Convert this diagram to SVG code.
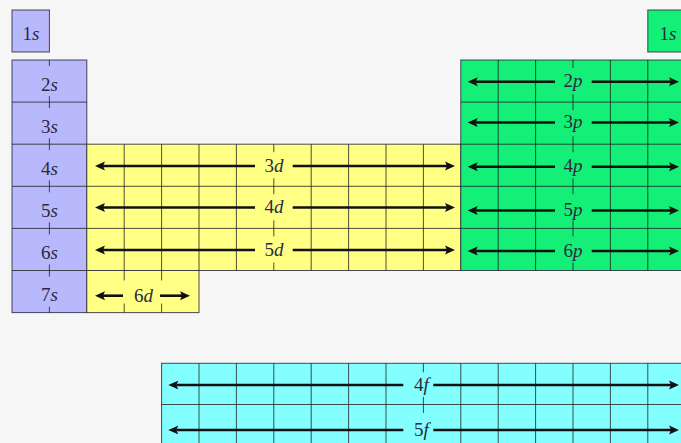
<svg xmlns="http://www.w3.org/2000/svg" width="681" height="443" viewBox="0 0 681 443">
<style>
.s{fill:#b8b8fc}
.d{fill:#ffff84}
.p{fill:#14ef78}
.f{fill:#84ffff}
.blk{stroke:#2a2a3a;stroke-width:1;stroke-opacity:0.85}
.g{stroke:#222;stroke-width:1;stroke-opacity:0.8;fill:none}
.bg{stroke:none}
.t{font-family:"Liberation Serif","Times New Roman",serif;font-size:19px;fill:#2a2a40;text-anchor:middle}
.i{font-style:italic}
.ar{stroke:#111;stroke-width:2.6;fill:none;marker-end:url(#ah)}
</style>
<defs>
<marker id="ah" markerUnits="userSpaceOnUse" markerWidth="12" markerHeight="10" viewBox="0 -5 12 10" refX="2" refY="0" orient="auto">
<path d="M0,-4.5 L10,0 L0,4.5 L2,0 Z" fill="#111"/>
</marker>
</defs>
<rect width="681" height="443" fill="#f6f6f6"/>

<g id="s-1s-left">
<rect x="12" y="10" width="37.4" height="42" class="s blk"/>
<text class="t" x="31" y="40">1<tspan class="i">s</tspan></text>
</g>

<g id="s-1s-right">
<rect x="647.8" y="10" width="40" height="42" class="p blk"/>
<text class="t" x="668" y="39.5">1<tspan class="i">s</tspan></text>
</g>

<g id="s-block">
<rect x="12" y="60" width="74.8" height="252.6" class="s blk"/>
<path class="g" d="M12,102.1H86.8M12,144.2H86.8M12,186.3H86.8M12,228.4H86.8M12,270.5H86.8M49.4,60V312.6"/>
<g class="s bg">
<rect x="36.4" y="66" width="26" height="30.1"/>
<rect x="36.4" y="108.1" width="26" height="30.1"/>
<rect x="36.4" y="150.2" width="26" height="30.1"/>
<rect x="36.4" y="192.3" width="26" height="30.1"/>
<rect x="36.4" y="234.4" width="26" height="30.1"/>
<rect x="36.4" y="276.5" width="26" height="30.1"/>
</g>
<text class="t" x="49.4" y="90.7">2<tspan class="i">s</tspan></text>
<text class="t" x="49.4" y="132.8">3<tspan class="i">s</tspan></text>
<text class="t" x="49.4" y="174.9">4<tspan class="i">s</tspan></text>
<text class="t" x="49.4" y="217">5<tspan class="i">s</tspan></text>
<text class="t" x="49.4" y="259.1">6<tspan class="i">s</tspan></text>
<text class="t" x="49.4" y="301.2">7<tspan class="i">s</tspan></text>
</g>

<g id="d-block">
<rect x="86.8" y="144.2" width="374" height="126.3" class="d blk"/>
<rect x="86.8" y="270.5" width="112.2" height="42.1" class="d blk"/>
<path class="g" d="M86.8,186.3H460.8M86.8,228.4H460.8M124.2,144.2V312.6M161.6,144.2V312.6M199,144.2V270.5M236.4,144.2V270.5M273.8,144.2V270.5M311.2,144.2V270.5M348.6,144.2V270.5M386,144.2V270.5M423.4,144.2V270.5"/>
<g class="d bg">
<rect x="257" y="152.2" width="34" height="26.1"/>
<rect x="257" y="194.3" width="34" height="26.1"/>
<rect x="257" y="236.4" width="34" height="26.1"/>
<rect x="121" y="280.5" width="42" height="23"/>
</g>
<text class="t" x="274" y="171.9">3<tspan class="i">d</tspan></text>
<text class="t" x="274" y="213.4">4<tspan class="i">d</tspan></text>
<text class="t" x="274" y="255.9">5<tspan class="i">d</tspan></text>
<text class="t" x="143.5" y="301.6">6<tspan class="i">d</tspan></text>
</g>

<g id="p-block">
<rect x="460.8" y="60" width="224.4" height="210.5" class="p blk"/>
<path class="g" d="M460.8,102.1H685M460.8,144.2H685M460.8,186.3H685M460.8,228.4H685M498.2,60V270.5M535.6,60V270.5M573,60V270.5M610.4,60V270.5M647.8,60V270.5"/>
<g class="p bg">
<rect x="556" y="68" width="34" height="26.1"/>
<rect x="556" y="110.1" width="34" height="26.1"/>
<rect x="556" y="152.2" width="34" height="26.1"/>
<rect x="556" y="194.3" width="34" height="26.1"/>
<rect x="556" y="236.4" width="34" height="26.1"/>
</g>
<text class="t" x="573" y="87.4">2<tspan class="i">p</tspan></text>
<text class="t" x="573" y="128.2">3<tspan class="i">p</tspan></text>
<text class="t" x="573" y="172.4">4<tspan class="i">p</tspan></text>
<text class="t" x="573" y="216.2">5<tspan class="i">p</tspan></text>
<text class="t" x="573" y="256.7">6<tspan class="i">p</tspan></text>
</g>

<g id="f-block">
<rect x="161.6" y="363.3" width="523.6" height="90" class="f blk"/>
<path class="g" d="M161.6,404.5H685M199,363.3V443M236.4,363.3V443M273.8,363.3V443M311.2,363.3V443M348.6,363.3V443M386,363.3V443M423.4,363.3V443M460.8,363.3V443M498.2,363.3V443M535.6,363.3V443M573,363.3V443M610.4,363.3V443M647.8,363.3V443"/>
<g class="f bg">
<rect x="406.5" y="372.3" width="30" height="24.5"/>
<rect x="406.5" y="413" width="30" height="35"/>
</g>
<text class="t" x="421.5" y="390.7">4<tspan class="i">f</tspan></text>
<text class="t" x="421.5" y="435.7">5<tspan class="i">f</tspan></text>
</g>

<g id="connectors">
<line class="ar" x1="255" y1="166" x2="103" y2="166"/>
<line class="ar" x1="292.7" y1="166" x2="447" y2="166"/>
<line class="ar" x1="255" y1="207.5" x2="103" y2="207.5"/>
<line class="ar" x1="292.7" y1="207.5" x2="447" y2="207.5"/>
<line class="ar" x1="255" y1="250" x2="103" y2="250"/>
<line class="ar" x1="292.7" y1="250" x2="447" y2="250"/>
<line class="ar" x1="123" y1="295.7" x2="103" y2="295.7"/>
<line class="ar" x1="160" y1="295.7" x2="182" y2="295.7"/>
<line class="ar" x1="555" y1="81.7" x2="475.7" y2="81.7"/>
<line class="ar" x1="591.7" y1="81.7" x2="671" y2="81.7"/>
<line class="ar" x1="555" y1="122.5" x2="475.7" y2="122.5"/>
<line class="ar" x1="591.7" y1="122.5" x2="671" y2="122.5"/>
<line class="ar" x1="555" y1="166.7" x2="475.7" y2="166.7"/>
<line class="ar" x1="591.7" y1="166.7" x2="671" y2="166.7"/>
<line class="ar" x1="555" y1="210.5" x2="475.7" y2="210.5"/>
<line class="ar" x1="591.7" y1="210.5" x2="671" y2="210.5"/>
<line class="ar" x1="555" y1="251" x2="475.7" y2="251"/>
<line class="ar" x1="591.7" y1="251" x2="671" y2="251"/>
<line class="ar" x1="403.3" y1="385" x2="176.3" y2="385"/>
<line class="ar" x1="433.3" y1="385" x2="671" y2="385"/>
<line class="ar" x1="403.3" y1="430" x2="176.3" y2="430"/>
<line class="ar" x1="433.3" y1="430" x2="671" y2="430"/>
</g>
</svg>
